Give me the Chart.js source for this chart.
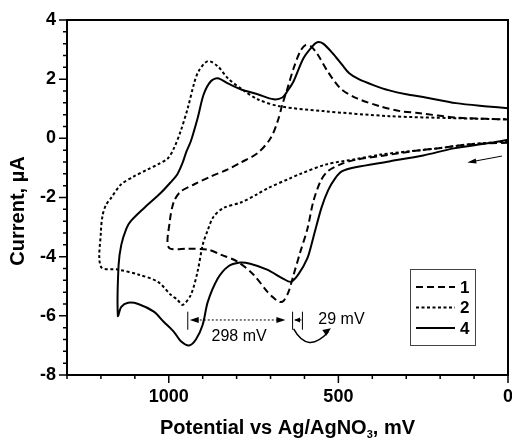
<!DOCTYPE html>
<html>
<head>
<meta charset="utf-8">
<script src="https://cdn.jsdelivr.net/npm/chart.js@4.4.0/dist/chart.umd.min.js"></script>
<style>
  html, body { margin: 0; padding: 0; background: #fff; }
  #wrap { width: 512px; height: 441px; }
</style>
</head>
<body>
<div id="wrap"><canvas id="cv" width="512" height="441"></canvas></div>
<script>
// curve 1 - switching at 1000 mV
const potential1 = [0, 112, 209, 259, 376, 447, 494, 532, 553, 574, 591, 612, 632, 647, 662, 674, 690, 709, 750, 797, 847, 885, 944, 1000,
    997, 985, 965, 926, 876, 826, 788, 738, 700, 679, 665, 650, 632, 612, 597, 582, 562, 532, 494, 447, 376, 318, 259, 153, 0];
const current1 = [-0.15, -0.2, -0.34, -0.4, -0.6, -0.72, -0.88, -1.12, -1.46, -2.14, -3.05, -3.83, -4.61, -5.19, -5.5, -5.53, -5.4, -5.19, -4.61, -4.17, -3.93, -3.76, -3.73, -3.69,
    -2.81, -2.14, -1.8, -1.56, -1.29, -1.05, -0.82, -0.5, 0, 0.58, 1.15, 1.69, 2.37, 2.95, 3.15, 3.12, 2.85, 2.27, 1.69, 1.36, 1.08, 0.92, 0.85, 0.7, 0.64];

// curve 2 - switching at 1200 mV
const potential2 = [0, 112, 209, 259, 376, 447, 535, 612, 644, 709, 741, 788, 838, 868, 885, 900, 915, 935, 959, 975, 994, 1032, 1088, 1147, 1200,
    1200, 1195, 1185, 1171, 1141, 1103, 1062, 1032, 1003, 985, 965, 944, 926, 912, 885, 856, 826, 788, 738, 671, 544, 350, 153, 0];
const current2 = [-0.1, -0.2, -0.34, -0.4, -0.55, -0.7, -0.88, -1.2, -1.36, -1.69, -1.9, -2.17, -2.35, -2.65, -3.1, -3.6, -4.5, -5.29, -5.63, -5.45, -5.29, -4.85, -4.61, -4.44, -4.34,
    -3.15, -2.6, -2.25, -2.03, -1.56, -1.29, -1.05, -0.88, -0.68, -0.34, 0.24, 1.02, 1.83, 2.27, 2.61, 2.44, 2.03, 1.69, 1.32, 1.08, 0.92, 0.75, 0.68, 0.64];

// curve 4 - switching at 1150 mV
const potential4 = [0, 60, 160, 250, 350, 450, 490, 510, 530, 550, 575, 592, 618, 640, 662, 710, 760, 790, 826, 856, 885, 900, 920, 940, 965, 985, 1015, 1044, 1090, 1120, 1140, 1150,
    1148, 1140, 1125, 1112, 1074, 1024, 994, 975, 960, 948, 935, 915, 897, 876, 856, 826, 788, 738, 691, 665, 650, 632, 603, 576, 562, 545, 515, 490, 468, 440, 397, 350, 300, 250, 153, 60, 0];
const current4 = [-0.05, -0.17, -0.34, -0.58, -0.78, -0.98, -1.12, -1.36, -1.75, -2.35, -3.4, -4.07, -4.6, -4.85, -4.75, -4.44, -4.24, -4.2, -4.34, -4.75, -5.53, -6.3, -6.8, -7.0, -6.85, -6.54, -6.2, -5.86, -5.6, -5.56, -5.7, -6.0,
    -4.3, -3.6, -3.05, -2.8, -2.37, -1.85, -1.48, -1.22, -0.85, -0.45, -0.1, 0.68, 1.49, 1.93, 2.03, 1.86, 1.66, 1.49, 1.32, 1.38, 1.6, 1.93, 2.71, 3.12, 3.25, 3.2, 2.85, 2.5, 2.2, 2.0, 1.8, 1.62, 1.49, 1.4, 1.19, 1.08, 1.02];

const curveLabels = ['1', '2', '4'];
const xTickLabels = [0, 500, 1000];
const yTickLabels = [-8, -6, -4, -2, 0, 2, 4];

const FONT = "'Liberation Sans', Arial, sans-serif";

function toPoints(xs, ys) {
    return xs.map((x, i) => ({ x: x, y: ys[i] }));
}

function arrowHead(ctx, x, y, ang, len, w) {
    ctx.beginPath();
    ctx.moveTo(x, y);
    ctx.lineTo(x - len * Math.cos(ang) + w * Math.sin(ang), y - len * Math.sin(ang) - w * Math.cos(ang));
    ctx.lineTo(x - len * Math.cos(ang) - w * Math.sin(ang), y - len * Math.sin(ang) + w * Math.cos(ang));
    ctx.closePath();
    ctx.fill();
}

const decor = {
    id: 'decor',
    afterDraw(chart) {
        const ctx = chart.ctx;
        const a = chart.chartArea;
        const xs = chart.scales.x, ys = chart.scales.y;
        const px = v => xs.getPixelForValue(v);
        const py = v => ys.getPixelForValue(v);
        ctx.save();
        ctx.strokeStyle = '#000';
        ctx.fillStyle = '#000';

        // frame
        ctx.lineWidth = 2;
        ctx.strokeRect(a.left, a.top, a.right - a.left, a.bottom - a.top);

        // tick marks
        ctx.lineWidth = 1.5;
        ctx.beginPath();
        xs.ticks.forEach(t => {
            const x = px(t.value);
            const len = xTickLabels.includes(t.value) ? 8 : 4;
            ctx.moveTo(x, a.bottom);
            ctx.lineTo(x, a.bottom + len);
        });
        ys.ticks.forEach(t => {
            const y = py(t.value);
            const major = yTickLabels.some(v => Math.abs(v - t.value) < 1e-6);
            ctx.moveTo(a.left, y);
            ctx.lineTo(a.left - (major ? 8 : 4), y);
        });
        ctx.stroke();

        // axis titles
        ctx.textBaseline = 'alphabetic';
        const t1 = 'Potential vs Ag/AgNO', t2 = ', mV';
        ctx.font = 'bold 20px ' + FONT;
        const w1 = ctx.measureText(t1).width;
        const w2 = ctx.measureText(t2).width;
        ctx.font = 'bold 11px ' + FONT;
        const w3 = ctx.measureText('3').width;
        const tx = (a.left + a.right) / 2 - (w1 + w2 + w3) / 2;
        const ty = 434;
        ctx.textAlign = 'left';
        ctx.font = 'bold 20px ' + FONT;
        ctx.fillText(t1, tx, ty);
        ctx.font = 'bold 11px ' + FONT;
        ctx.fillText('3', tx + w1, ty + 4);
        ctx.font = 'bold 20px ' + FONT;
        ctx.fillText(t2, tx + w1 + w3, ty);

        ctx.save();
        ctx.translate(18, 211);
        ctx.rotate(-Math.PI / 2);
        ctx.textAlign = 'center';
        ctx.textBaseline = 'middle';
        ctx.fillText('Current, µA', 0, 0);
        ctx.restore();

        // legend
        const lx = a.right - 98, ly = a.top + 249;
        ctx.lineWidth = 1;
        ctx.strokeStyle = '#444';
        ctx.strokeRect(lx + 0.5, ly + 0.5, 65, 76);
        ctx.strokeStyle = '#000';
        ctx.font = 'bold 17px ' + FONT;
        ctx.textAlign = 'left';
        ctx.textBaseline = 'middle';
        chart.data.datasets.forEach((ds, i) => {
            const y = ly + 18 + i * 20.5;
            ctx.lineWidth = 2;
            ctx.setLineDash(ds.borderDash || []);
            ctx.beginPath();
            ctx.moveTo(lx + 6, y);
            ctx.lineTo(lx + 45, y);
            ctx.stroke();
            ctx.setLineDash([]);
            ctx.fillText(ds.label, lx + 50, y + 1);
        });

        // 298 mV annotation
        ctx.lineWidth = 1;
        const yA = py(-6.14);
        ctx.beginPath();
        ctx.moveTo(px(944), py(-5.86));
        ctx.lineTo(px(944), py(-6.47));
        ctx.stroke();
        ctx.setLineDash([2, 2]);
        ctx.beginPath();
        ctx.moveTo(px(944) + 8, yA);
        ctx.lineTo(px(656) - 8, yA);
        ctx.stroke();
        ctx.setLineDash([]);
        arrowHead(ctx, px(944) + 2, yA, Math.PI, 9, 3);
        arrowHead(ctx, px(656), yA, 0, 9, 3);
        ctx.font = '16px ' + FONT;
        ctx.textBaseline = 'middle';
        ctx.fillText('298 mV', px(874), py(-6.71));

        // 29 mV annotation
        ctx.beginPath();
        ctx.moveTo(px(635), py(-5.86));
        ctx.lineTo(px(635), py(-6.47));
        ctx.moveTo(px(606), py(-5.86));
        ctx.lineTo(px(606), py(-6.47));
        ctx.moveTo(px(628), yA);
        ctx.lineTo(px(609), yA);
        ctx.stroke();
        arrowHead(ctx, px(635) + 1.5, yA, Math.PI, 6, 2.5);
        ctx.fillText('29 mV', px(559), yA);

        // curved arrow
        ctx.lineWidth = 1.5;
        ctx.beginPath();
        ctx.moveTo(px(632), py(-6.44));
        ctx.quadraticCurveTo(px(590), py(-7.3), px(530), py(-6.55));
        ctx.stroke();
        arrowHead(ctx, px(522), py(-6.42), -0.6, 8, 3.5);

        // scan direction arrow
        ctx.lineWidth = 1;
        ctx.beginPath();
        ctx.moveTo(px(18), py(-0.6));
        ctx.lineTo(px(112), py(-0.8));
        ctx.stroke();
        const ang = Math.atan2(py(-0.82) - py(-0.6), px(120) - px(18));
        arrowHead(ctx, px(120), py(-0.82), ang, 9, 2.5);

        ctx.restore();
    }
};

const tickFont = { family: FONT, size: 18, weight: 'bold' };

new Chart(document.getElementById('cv').getContext('2d'), {
    type: 'scatter',
    data: {
        datasets: [
            { label: curveLabels[0], data: toPoints(potential1, current1), borderDash: [7, 4] },
            { label: curveLabels[1], data: toPoints(potential2, current2), borderDash: [3, 2.5] },
            { label: curveLabels[2], data: toPoints(potential4, current4) }
        ].map(ds => Object.assign(ds, {
            showLine: true,
            borderColor: '#000',
            backgroundColor: '#000',
            borderWidth: 2,
            pointRadius: 0,
            tension: 0.3,
            fill: false
        }))
    },
    options: {
        responsive: false,
        animation: false,
        layout: { padding: { top: 20, right: 4, left: 0, bottom: 0 } },
        plugins: {
            legend: { display: false },
            tooltip: { enabled: false }
        },
        scales: {
            x: {
                type: 'linear',
                reverse: true,
                min: 0,
                max: 1300,
                grid: { display: false, drawTicks: false },
                border: { display: false },
                ticks: {
                    stepSize: 100,
                    autoSkip: false,
                    maxRotation: 0,
                    padding: 11,
                    color: '#000',
                    font: tickFont,
                    callback: v => xTickLabels.includes(v) ? String(v) : ''
                },
                afterFit: s => {
                    s.height = 66;
                    s.paddingLeft = 0;
                    s.paddingRight = 0;
                }
            },
            y: {
                type: 'linear',
                min: -8,
                max: 4,
                grid: { display: false, drawTicks: false },
                border: { display: false },
                ticks: {
                    stepSize: 0.4,
                    autoSkip: false,
                    padding: 11,
                    color: '#000',
                    font: tickFont,
                    callback: v => {
                        const t = yTickLabels.find(k => Math.abs(k - v) < 1e-6);
                        return t === undefined ? '' : String(t);
                    }
                },
                afterFit: s => {
                    s.width = 67;
                    s.paddingTop = 0;
                    s.paddingBottom = 0;
                }
            }
        }
    },
    plugins: [decor]
});
</script>
</body>
</html>
